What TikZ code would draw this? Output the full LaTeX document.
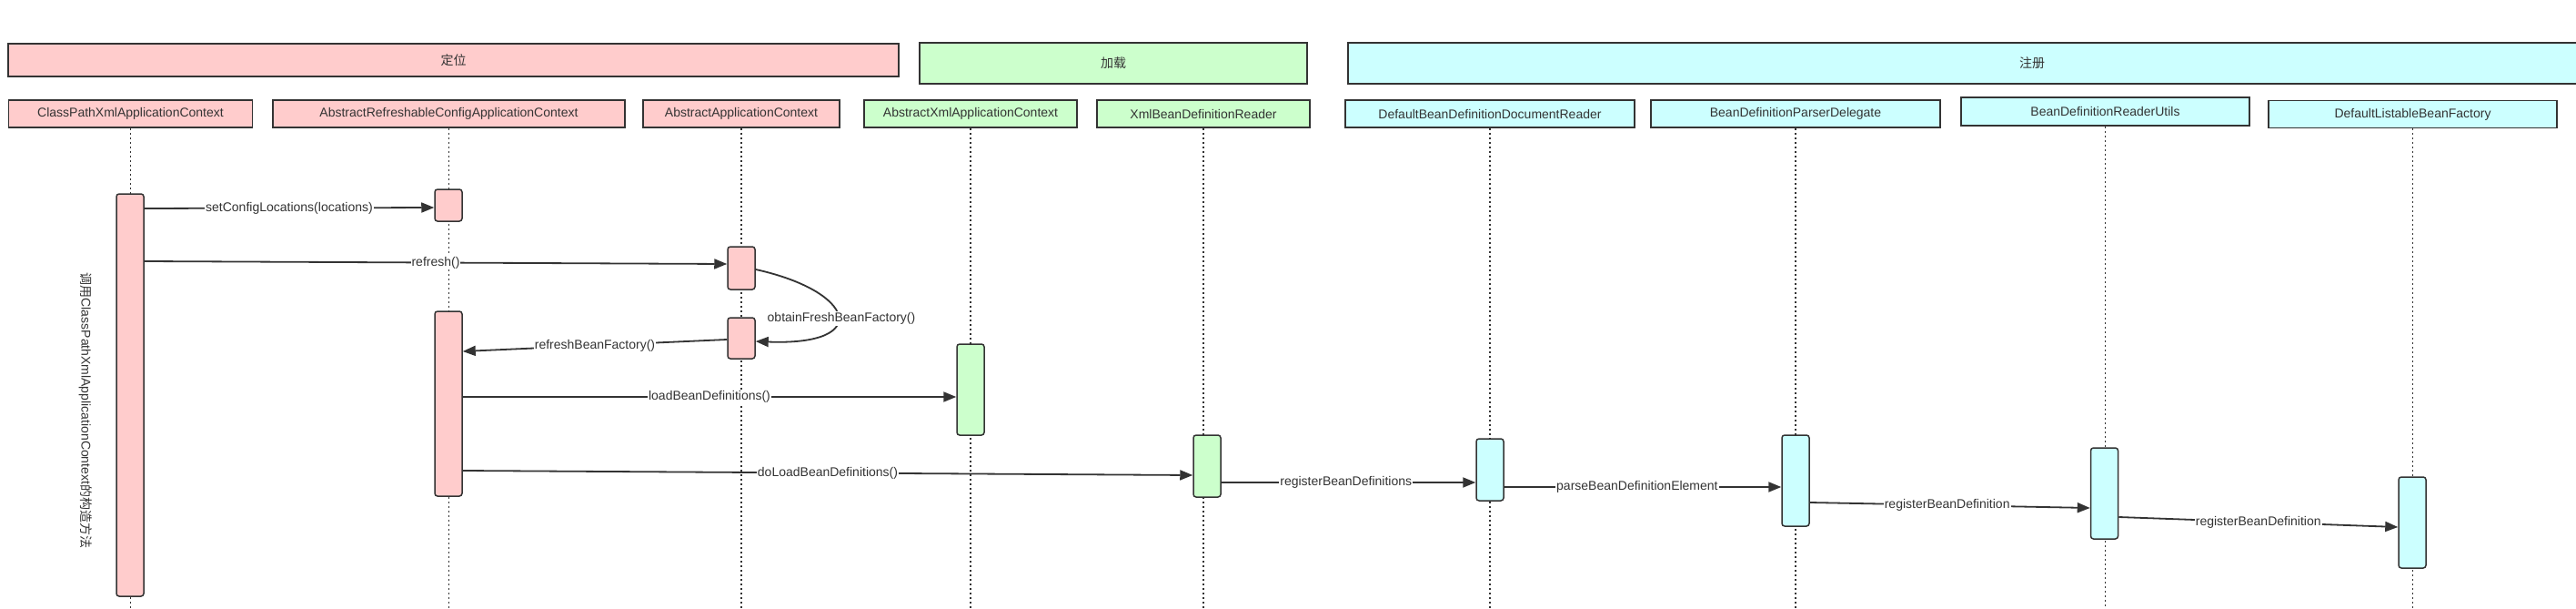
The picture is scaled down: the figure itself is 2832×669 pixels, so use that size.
\documentclass[tikz,border=0pt]{standalone}
\usepackage{fontspec}
\setmainfont{Liberation Sans}
\newfontfamily\cjk{Noto Sans CJK SC}
\usetikzlibrary{arrows.meta}
\definecolor{pinkf}{HTML}{FFCCCC}
\definecolor{greenf}{HTML}{CCFFCC}
\definecolor{cyanf}{HTML}{CCFFFF}
\definecolor{edgec}{HTML}{333333}
\begin{document}
\begin{tikzpicture}[x={(1pt,0)}, y={(0,-1pt)},
  font=\fontsize{14}{16}\selectfont, text=edgec,
  grp/.style={draw=edgec, line width=1.5pt, inner sep=0pt},
  hdr/.style={draw=edgec, line width=1.5pt, inner sep=0pt, minimum height=30pt},
  act/.style={draw=edgec, line width=1.5pt, rounded corners=3pt, inner sep=0pt, minimum width=30pt},
  life/.style={draw=edgec, line width=1.2pt, dash pattern=on 2pt off 3pt},
  msg/.style={draw=edgec, line width=1.8pt, -{Triangle[length=14pt,width=11pt]}},
  lbl/.style={fill=white, inner sep=1pt, text=edgec}]
\useasboundingbox (0,0) rectangle (2832,669);
\clip (0,0) rectangle (2832,669);
\fill[white] (0,0) rectangle (2832,669);

% groups
\node[grp, fill=pinkf, minimum width=979pt, minimum height=36pt] (g1) at (498.5,66) {\cjk 定位};
\node[grp, fill=greenf, minimum width=426pt, minimum height=45pt] (g2) at (1224,69.5) {\cjk 加载};
\node[grp, fill=cyanf, minimum width=1504pt, minimum height=45pt] (g3) at (2234,69.5) {\cjk 注册};

% headers
\node[hdr, fill=pinkf, minimum width=268pt] (h1) at (143.5,125) {ClassPathXmlApplicationContext};
\node[hdr, fill=pinkf, minimum width=387pt] (h2) at (493.5,125) {AbstractRefreshableConfigApplicationContext};
\node[hdr, fill=pinkf, minimum width=216pt] (h3) at (815,125) {AbstractApplicationContext};
\node[hdr, fill=greenf, minimum width=234pt] (h4) at (1067,125) {AbstractXmlApplicationContext};
\node[hdr, fill=greenf, minimum width=234pt] (h5) at (1323,125) {XmlBeanDefinitionReader};
\node[hdr, fill=cyanf, minimum width=318pt] (h6) at (1638,125) {DefaultBeanDefinitionDocumentReader};
\node[hdr, fill=cyanf, minimum width=318pt] (h7) at (1974,125) {BeanDefinitionParserDelegate};
\node[hdr, fill=cyanf, minimum width=317pt, minimum height=31pt] (h8) at (2314.5,122.5) {BeanDefinitionReaderUtils};
\node[hdr, fill=cyanf, minimum width=317pt] (h9) at (2652.5,125.5) {DefaultListableBeanFactory};

% lifelines
\foreach \h in {h1,h2,h3,h4,h5,h6,h7,h8,h9}{
  \coordinate (\h end) at (\h.south |- 0,669);
  \draw[life] (\h.south) -- (\h end);
}

% activations
\node[act, fill=pinkf, minimum height=442pt] (a1) at (143,434) {};
\node[act, fill=pinkf, minimum height=35pt] (a2) at (493,225.5) {};
\node[act, fill=pinkf, minimum height=47pt] (a3) at (815,294.5) {};
\node[act, fill=pinkf, minimum height=45pt] (a4) at (815,371.5) {};
\node[act, fill=pinkf, minimum height=203pt] (a5) at (493,443.5) {};
\node[act, fill=greenf, minimum height=100pt] (a6) at (1067,428) {};
\node[act, fill=greenf, minimum height=68pt] (a7) at (1327,512) {};
\node[act, fill=cyanf, minimum height=68pt] (a8) at (1638,516) {};
\node[act, fill=cyanf, minimum height=100pt] (a9) at (1974,528) {};
\node[act, fill=cyanf, minimum height=100pt] (a10) at (2313.5,542) {};
\node[act, fill=cyanf, minimum height=100pt] (a11) at (2652,574) {};

% vertical text
\node[rotate=-90, text=edgec] (vt) at (94,451) {{\cjk 调用}ClassPathXmlApplicationContext{\cjk 的构造方法}};

% messages
\draw[msg] (a1.east |- 0,229) -- node[lbl] (l1) {setConfigLocations(locations)} (a2.west |- 0,228);
\draw[msg] (a1.east |- 0,287) -- node[lbl] (l2) {refresh()} (a3.west |- 0,290);
\draw[msg] (a3.east |- 0,296) .. controls (940,320) and (960,380) .. (a4.east |- 0,375);
\node[lbl] (l3) at (925,350) {obtainFreshBeanFactory()};
\draw[msg] (a4.west |- 0,373) -- node[lbl] (l4) {refreshBeanFactory()} (a5.east |- 0,386);
\draw[msg] (a5.east |- 0,436) -- node[lbl] (l5) {loadBeanDefinitions()} (a6.west |- 0,436);
\draw[msg] (a5.east |- 0,517) -- node[lbl] (l6) {doLoadBeanDefinitions()} (a7.west |- 0,522);
\draw[msg] (a7.east |- 0,530) -- node[lbl, pos=0.49] (l7) {registerBeanDefinitions} (a8.west |- 0,530);
\draw[msg] (a8.east |- 0,535) -- node[lbl, pos=0.48] (l8) {parseBeanDefinitionElement} (a9.west |- 0,535);
\draw[msg] (a9.east |- 0,552) -- node[lbl, pos=0.49] (l9) {registerBeanDefinition} (a10.west |- 0,558);
\draw[msg] (a10.east |- 0,568) -- node[lbl] (l10) {registerBeanDefinition} (a11.west |- 0,579);
\end{tikzpicture}
\end{document}
